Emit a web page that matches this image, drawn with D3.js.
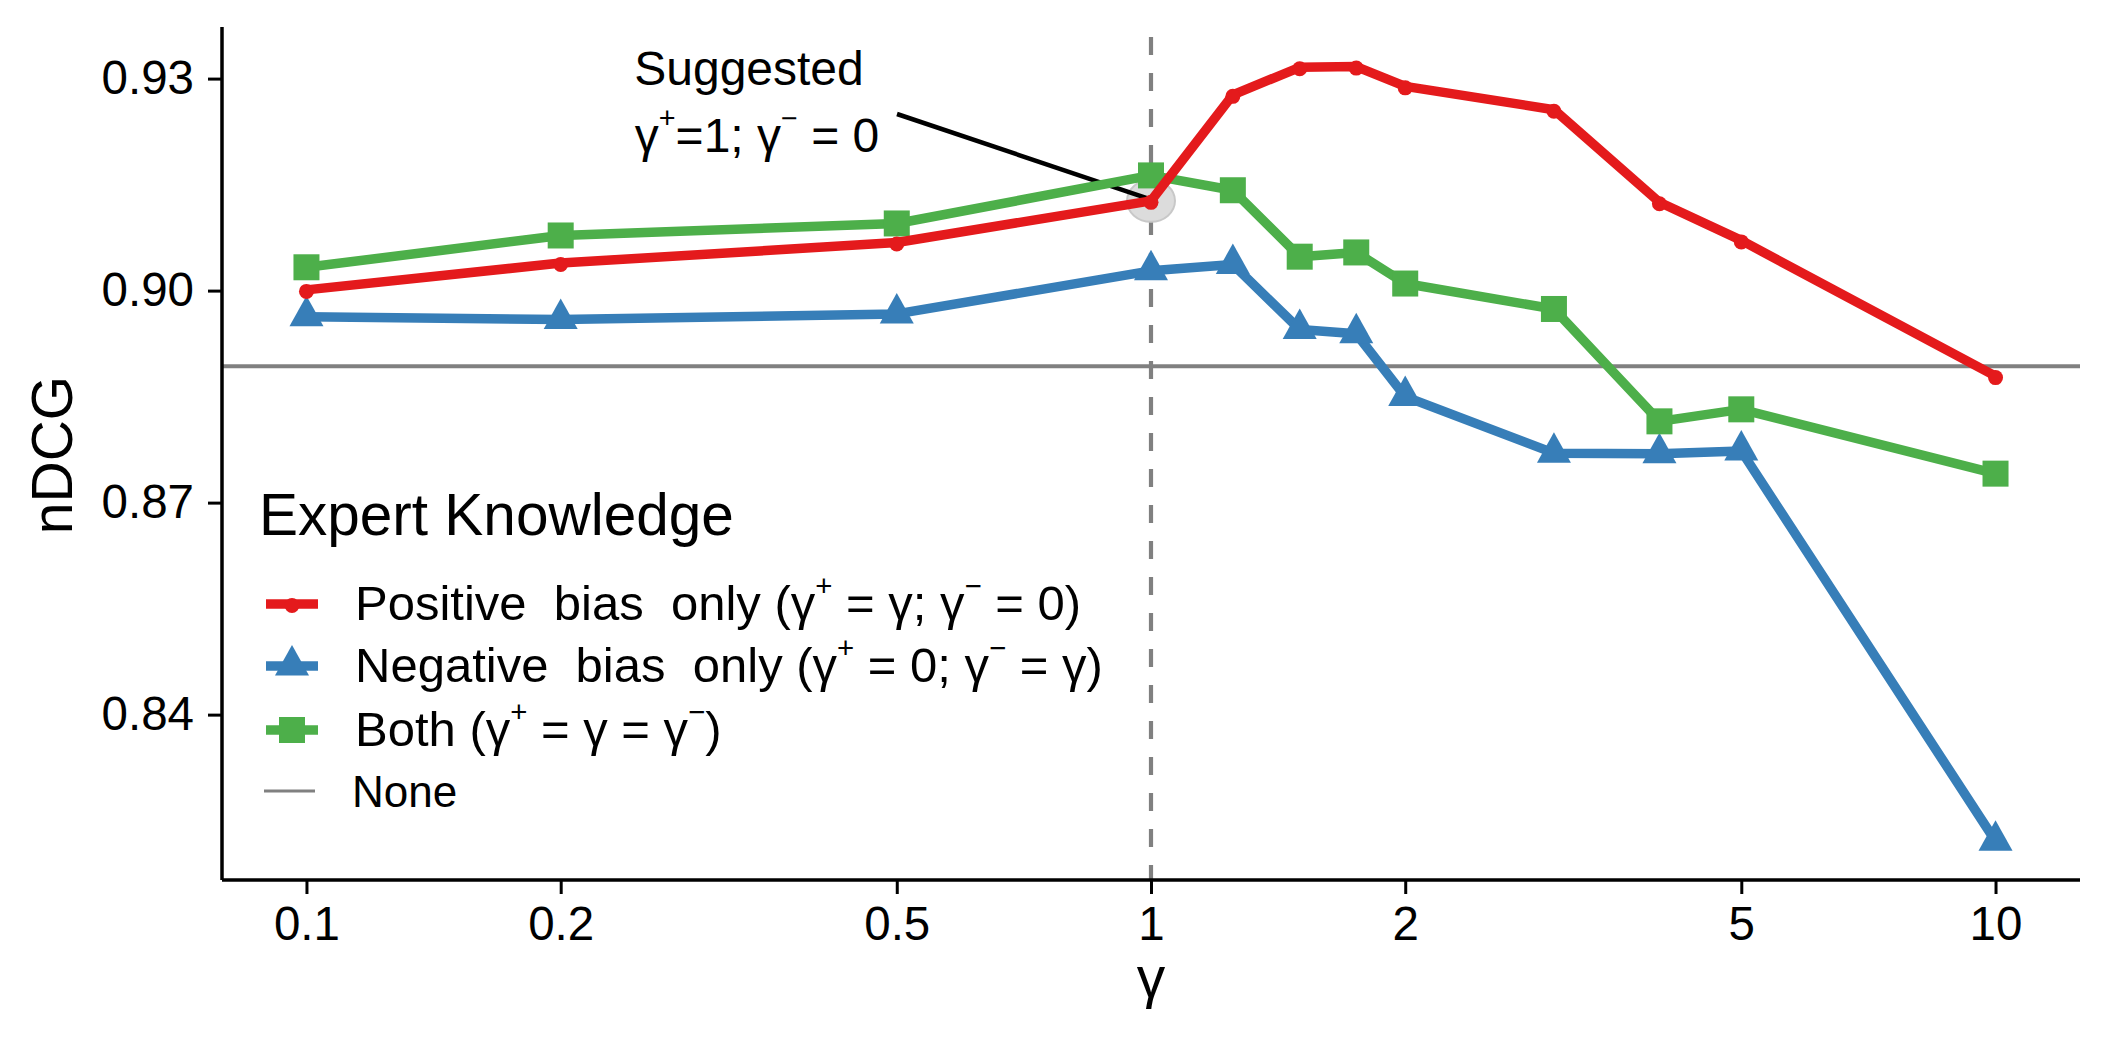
<!DOCTYPE html>
<html>
<head>
<meta charset="utf-8">
<script src="https://d3js.org/d3.v7.min.js"></script>
<style>
  body { margin: 0; background: #fff; }
  svg text { font-family: "Liberation Sans", Arial, sans-serif; fill: #000; white-space: pre; }
</style>
</head>
<body>
<div id="chart"></div>
<script>
// data
var gammas = [0.1, 0.2, 0.5, 1, 1.25, 1.5, 1.75, 2, 3, 4, 5, 10];
var positiveOnly = [0.9001, 0.9039, 0.9068, 0.9127, 0.9277, 0.9316, 0.9317, 0.9289, 0.9256, 0.9125, 0.9071, 0.8879];
var negativeOnly = [0.8963, 0.8959, 0.8967, 0.9028, 0.9037, 0.8945, 0.8939, 0.8850, 0.8770, 0.8769, 0.8773, 0.8221];
var both = [0.9033, 0.9078, 0.9095, 0.9163, 0.9142, 0.9048, 0.9054, 0.9010, 0.8974, 0.8815, 0.8832, 0.8741];
var noneValue = 0.8893;
var suggestedGamma = 1;
var xTicks = [0.1, 0.2, 0.5, 1, 2, 5, 10];
var xTickLabels = ["0.1", "0.2", "0.5", "1", "2", "5", "10"];
var yTicks = [0.84, 0.87, 0.90, 0.93];

var width = 2108, height = 1054;
var margin = {top: 27, right: 28, bottom: 174, left: 222};
var plotW = width - margin.left - margin.right;
var plotH = height - margin.top - margin.bottom;

var red = "#e41a1c", blue = "#377eb8", green = "#4daf4a", grey = "#808080";
var lw = 9.5;

var svg = d3.select("#chart").append("svg")
    .attr("width", width)
    .attr("height", height);

var g = svg.append("g")
    .attr("transform", "translate(" + margin.left + "," + margin.top + ")");

var xScale = d3.scaleLog()
    .domain([0.07943, 12.59])
    .range([0, plotW]);
var yScale = d3.scaleLinear()
    .domain([0.8166, 0.9373])
    .range([plotH, 0]);

// text with superscripts: parts = [[text, isSup], ...]
function richText(sel, parts, size) {
  var back = 0;
  parts.forEach(function (p) {
    var t = sel.append("tspan").text(p[0]);
    if (p[1]) {
      t.attr("font-size", size * 0.6).attr("dy", -size * 0.5 - back);
      back = -size * 0.5;
    } else if (back !== 0) {
      t.attr("dy", -back);
      back = 0;
    }
  });
}

// vertical dashed line at gamma = 1
g.append("line")
    .attr("x1", xScale(suggestedGamma)).attr("x2", xScale(suggestedGamma))
    .attr("y1", 0).attr("y2", plotH)
    .attr("stroke", grey).attr("stroke-width", 4.2)
    .attr("stroke-dasharray", "18,18")
    .attr("stroke-dashoffset", -10);

// horizontal "None" baseline
g.append("line")
    .attr("x1", 0).attr("x2", plotW)
    .attr("y1", yScale(noneValue)).attr("y2", yScale(noneValue))
    .attr("stroke", grey).attr("stroke-width", 4);

// annotation highlight
var idx = gammas.indexOf(suggestedGamma);
g.append("ellipse")
    .attr("cx", xScale(suggestedGamma))
    .attr("cy", yScale(positiveOnly[idx]))
    .attr("rx", 24).attr("ry", 21)
    .attr("fill", "#dcdcdc")
    .attr("stroke", "#c8c8c8")
    .attr("stroke-width", 2);

g.append("line")
    .attr("x1", 675).attr("y1", 87)
    .attr("x2", xScale(suggestedGamma) - 2)
    .attr("y2", yScale(positiveOnly[idx]) - 2)
    .attr("stroke", "#000").attr("stroke-width", 4.5);

g.append("text")
    .attr("text-anchor", "middle")
    .attr("font-size", 48)
    .attr("x", 527).attr("y", 58)
    .text("Suggested");
var ann2 = g.append("text")
    .attr("text-anchor", "middle")
    .attr("font-size", 48)
    .attr("x", 535).attr("y", 125);
richText(ann2, [["γ", false], ["+", true], ["=1; γ", false], ["\u2212", true], [" = 0", false]], 48);

// series
var line = d3.line()
    .x(function (d) { return xScale(d[0]); })
    .y(function (d) { return yScale(d[1]); });

function pairs(vals) {
  return gammas.map(function (x, i) { return [x, vals[i]]; });
}

var triPath = "M0,-21L17,9.5L-17,9.5Z";

// blue (triangles)
g.append("path").datum(pairs(negativeOnly))
    .attr("d", line).attr("fill", "none")
    .attr("stroke", blue).attr("stroke-width", lw).attr("stroke-linejoin", "round");
g.selectAll(".tri").data(pairs(negativeOnly)).enter()
    .append("path").attr("class", "tri")
    .attr("d", triPath)
    .attr("transform", function (d) { return "translate(" + xScale(d[0]) + "," + yScale(d[1]) + ")"; })
    .attr("fill", blue);

// green (squares)
g.append("path").datum(pairs(both))
    .attr("d", line).attr("fill", "none")
    .attr("stroke", green).attr("stroke-width", lw).attr("stroke-linejoin", "round");
g.selectAll(".sq").data(pairs(both)).enter()
    .append("rect").attr("class", "sq")
    .attr("x", function (d) { return xScale(d[0]) - 13; })
    .attr("y", function (d) { return yScale(d[1]) - 13; })
    .attr("width", 26).attr("height", 26)
    .attr("fill", green);

// red (dots)
g.append("path").datum(pairs(positiveOnly))
    .attr("d", line).attr("fill", "none")
    .attr("stroke", red).attr("stroke-width", lw).attr("stroke-linejoin", "round");
g.selectAll(".dot").data(pairs(positiveOnly)).enter()
    .append("circle").attr("class", "dot")
    .attr("cx", function (d) { return xScale(d[0]); })
    .attr("cy", function (d) { return yScale(d[1]) + 1.5; })
    .attr("r", 7.5)
    .attr("fill", red);

// axes
var xAxis = g.append("g")
    .attr("transform", "translate(0," + plotH + ")")
    .call(d3.axisBottom(xScale).tickValues(xTicks)
          .tickFormat(function (d, i) { return xTickLabels[i]; })
          .tickSize(14).tickPadding(12));
var yAxis = g.append("g")
    .call(d3.axisLeft(yScale).tickValues(yTicks)
          .tickFormat(d3.format(".2f"))
          .tickSize(14).tickPadding(14));

[xAxis, yAxis].forEach(function (ax) {
  ax.select(".domain").attr("stroke", "#000").attr("stroke-width", 3.5);
  ax.selectAll(".tick line").attr("stroke", "#000").attr("stroke-width", 3);
  ax.selectAll(".tick text").attr("font-size", 47.5)
    .attr("font-family", "Liberation Sans, Arial, sans-serif").attr("fill", "#000");
});
xAxis.select(".domain").attr("d", "M0,0H" + plotW);
yAxis.select(".domain").attr("d", "M0,0V" + plotH);

// axis labels
svg.append("text")
    .attr("transform", "translate(72,455) rotate(-90)")
    .attr("text-anchor", "middle")
    .attr("font-size", 57)
    .text("nDCG");
svg.append("text")
    .attr("x", xScale(1) + margin.left)
    .attr("y", 997)
    .attr("text-anchor", "middle")
    .attr("font-size", 57)
    .text("γ");

// legend
var legend = svg.append("g");
legend.append("text")
    .attr("x", 259).attr("y", 535)
    .attr("font-size", 58.5)
    .text("Expert Knowledge");

var legendItems = [
  {color: red, marker: "dot", y: 620,
   parts: [["Positive  bias  only (γ", false], ["+", true], [" = γ; γ", false], ["\u2212", true], [" = 0)", false]]},
  {color: blue, marker: "tri", y: 682,
   parts: [["Negative  bias  only (γ", false], ["+", true], [" = 0; γ", false], ["\u2212", true], [" = γ)", false]]},
  {color: green, marker: "sq", y: 746,
   parts: [["Both (γ", false], ["+", true], [" = γ = γ", false], ["\u2212", true], [")", false]]}
];

legendItems.forEach(function (it) {
  var my = it.y - 16;
  legend.append("line")
      .attr("x1", 266).attr("x2", 318)
      .attr("y1", my).attr("y2", my)
      .attr("stroke", it.color).attr("stroke-width", lw);
  if (it.marker === "dot") {
    legend.append("circle").attr("cx", 292).attr("cy", my + 1.5).attr("r", 7.5).attr("fill", it.color);
  } else if (it.marker === "tri") {
    legend.append("path").attr("d", triPath)
        .attr("transform", "translate(292," + my + ")").attr("fill", it.color);
  } else {
    legend.append("rect").attr("x", 279).attr("y", my - 13)
        .attr("width", 26).attr("height", 26).attr("fill", it.color);
  }
  var t = legend.append("text")
      .attr("x", 355).attr("y", it.y)
      .attr("font-size", 49);
  richText(t, it.parts, 49);
});

legend.append("line")
    .attr("x1", 264).attr("x2", 315)
    .attr("y1", 791).attr("y2", 791)
    .attr("stroke", grey).attr("stroke-width", 3);
legend.append("text")
    .attr("x", 352).attr("y", 807)
    .attr("font-size", 44)
    .text("None");
</script>
</body>
</html>
